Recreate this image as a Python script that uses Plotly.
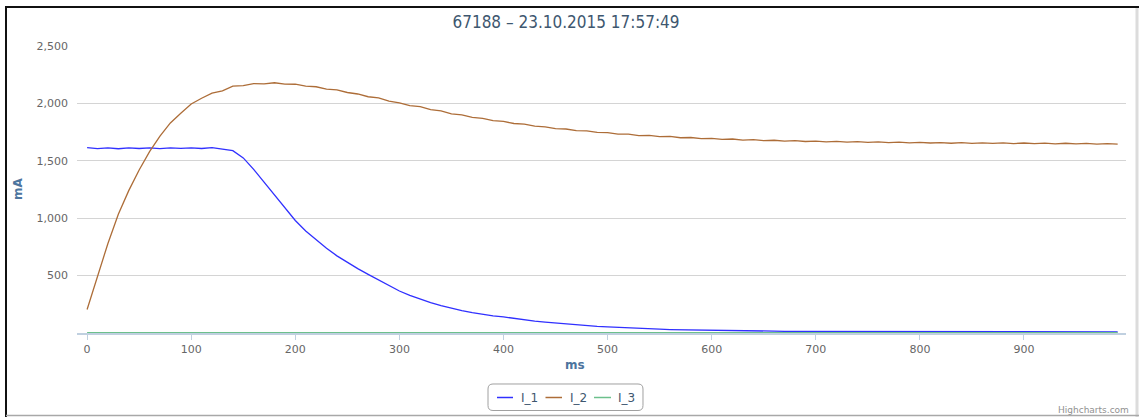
import plotly.graph_objects as go

# ---------------- data ----------------
ms = list(range(0, 1000, 10))

I_1 = [1615, 1606, 1612, 1605, 1613, 1607, 1612, 1606, 1613, 1608,
       1612, 1607, 1614, 1603, 1588, 1525, 1425, 1315, 1205, 1090,
       980, 888, 810, 738, 672, 614, 561, 511, 461, 412,
       366, 328, 295, 265, 238, 215, 195, 178, 162, 150,
       140, 126, 114, 104, 95, 87, 78, 71, 64, 58,
       53, 48, 44, 40, 36, 33, 30, 28, 26, 24,
       22, 21, 20, 19, 18, 17, 16, 15, 15, 14,
       14, 13, 13, 13, 12, 12, 12, 12, 12, 12,
       11, 11, 11, 11, 11, 11, 11, 11, 11, 11,
       10, 10, 10, 10, 10, 10, 10, 10, 10, 10]

I_2 = [205, 500, 780, 1035, 1240, 1420, 1580, 1715, 1830, 1915,
       1995, 2045, 2090, 2110, 2150, 2155, 2172, 2170, 2180, 2168,
       2167, 2150, 2145, 2125, 2118, 2095, 2082, 2058, 2048, 2020,
       2005, 1980, 1972, 1945, 1935, 1908, 1900, 1878, 1870, 1850,
       1843, 1825, 1820, 1802, 1796, 1780, 1777, 1763, 1760, 1747,
       1745, 1733, 1732, 1720, 1721, 1710, 1712, 1701, 1703, 1693,
       1696, 1686, 1690, 1680, 1684, 1675, 1679, 1671, 1675, 1668,
       1672, 1665, 1669, 1662, 1667, 1660, 1665, 1658, 1663, 1656,
       1661, 1655, 1659, 1653, 1658, 1652, 1657, 1651, 1656, 1650,
       1655, 1649, 1654, 1648, 1653, 1647, 1652, 1646, 1650, 1645]

I_3 = [4, 3, 4, 4, 3, 4, 3, 4, 4, 3,
       4, 3, 4, 4, 3, 4, 3, 4, 4, 3,
       4, 3, 4, 4, 3, 4, 3, 4, 4, 3,
       4, 3, 4, 4, 3, 4, 3, 4, 4, 3,
       4, 3, 4, 4, 3, 4, 3, 4, 4, 3,
       4, 3, 4, 4, 3, 4, 3, 4, 4, 3,
       4, 3, 4, 4, 3, 4, 3, 4, 4, 3,
       4, 3, 4, 4, 3, 4, 3, 4, 4, 3,
       4, 3, 4, 4, 3, 4, 3, 4, 4, 3,
       4, 3, 4, 4, 3, 4, 3, 4, 4, 3]

series_names = ["I_1", "I_2", "I_3"]
series_colors = ["#3030ff", "#ad6d38", "#6cc08c"]
y_ticks = [500, 1000, 1500, 2000, 2500]
x_ticks = [0, 100, 200, 300, 400, 500, 600, 700, 800, 900]
title_text = "67188 \u2013 23.10.2015 17:57:49"

# ---------------- layout geometry (pixels) ----------------
W, H = 1139, 417
PL, PR, PT, PB = 77, 1126, 46, 333


def px(x):
    return (x - PL) / (PR - PL)


def py(y):
    return (PB - y) / (PB - PT)


fig = go.Figure()
for name, vals, col in zip(series_names, [I_1, I_2, I_3], series_colors):
    fig.add_trace(go.Scatter(x=ms, y=vals, mode="lines", name=name,
                             line=dict(color=col, width=1.3),
                             showlegend=False))

shapes = []
# chart frame (screenshot borders)
shapes.append(dict(type="line", xref="paper", yref="paper",
                   x0=px(5), x1=px(W), y0=py(7), y1=py(7),
                   line=dict(color="#111111", width=2)))
shapes.append(dict(type="line", xref="paper", yref="paper",
                   x0=px(6), x1=px(6), y0=py(6), y1=py(H),
                   line=dict(color="#111111", width=2)))
shapes.append(dict(type="line", xref="paper", yref="paper",
                   x0=px(1137), x1=px(1137), y0=py(8), y1=py(H),
                   line=dict(color="#dcdcdc", width=3)))
shapes.append(dict(type="line", xref="paper", yref="paper",
                   x0=px(6), x1=px(W), y0=py(415.5), y1=py(415.5),
                   line=dict(color="#a8a8a8", width=1.5)))


# custom legend box with rounded corners
def rrect(x0, y0, x1, y1, r):
    pts = [
        ("M", x0 + r, y0), ("L", x1 - r, y0), ("Q", x1, y0, x1, y0 + r),
        ("L", x1, y1 - r), ("Q", x1, y1, x1 - r, y1), ("L", x0 + r, y1),
        ("Q", x0, y1, x0, y1 - r), ("L", x0, y0 + r), ("Q", x0, y0, x0 + r, y0),
    ]
    out = []
    for p in pts:
        if p[0] == "Q":
            out.append("Q %.6f,%.6f %.6f,%.6f" % (px(p[1]), py(p[2]), px(p[3]), py(p[4])))
        else:
            out.append("%s %.6f,%.6f" % (p[0], px(p[1]), py(p[2])))
    return " ".join(out) + " Z"


shapes.append(dict(type="path", xref="paper", yref="paper",
                   path=rrect(488, 384, 643, 410.5, 5),
                   line=dict(color="#a0a0a0", width=1), fillcolor="white"))

annotations = []
leg_sym = [(497, 513), (545.5, 562), (594, 611)]
leg_txt = [519, 567.5, 616]
for (s0, s1), tx, name, col in zip(leg_sym, leg_txt, series_names, series_colors):
    shapes.append(dict(type="line", xref="paper", yref="paper",
                       x0=px(s0), x1=px(s1), y0=py(397.5), y1=py(397.5),
                       line=dict(color=col, width=1.5)))
    annotations.append(dict(xref="paper", yref="paper", x=px(tx), y=py(397.5),
                            xanchor="left", yanchor="middle", showarrow=False,
                            text=name,
                            font=dict(family="DejaVu Sans", size=12, color="#3E576F")))

# axis titles
annotations.append(dict(xref="paper", yref="paper", x=px(18), y=py(189),
                        xanchor="center", yanchor="middle", showarrow=False,
                        text="<b>mA</b>", textangle=-90,
                        font=dict(family="DejaVu Sans", size=12, color="#4d759e")))
annotations.append(dict(xref="paper", yref="paper", x=px(575), y=py(365),
                        xanchor="center", yanchor="middle", showarrow=False,
                        text="<b>ms</b>",
                        font=dict(family="DejaVu Sans", size=12, color="#4d759e")))
# credit (cut at the bottom edge in the reference; kept just inside here)
annotations.append(dict(xref="paper", yref="paper", x=px(1131), y=py(403),
                        xanchor="right", yanchor="top", showarrow=False,
                        text="Highcharts.com",
                        font=dict(family="DejaVu Sans", size=9, color="#909090")))

fig.update_layout(
    width=W, height=H,
    margin=dict(l=PL, r=W - PR, t=PT, b=H - PB, pad=0),
    paper_bgcolor="white", plot_bgcolor="white",
    title=dict(text=title_text, x=(566) / W, xanchor="center",
               y=1 - 22 / H, yanchor="middle",
               font=dict(family="DejaVu Sans Condensed, Liberation Sans Narrow, DejaVu Sans",
                         size=17, color="#3E576F")),
    shapes=shapes,
    annotations=annotations,
    showlegend=False,
)

fig.update_xaxes(
    range=[-9.7, 998], tickvals=x_ticks, ticktext=[str(v) for v in x_ticks],
    showgrid=False, zeroline=False,
    showline=True, linecolor="#C0D0E0", linewidth=2,
    ticks="outside", ticklen=5, tickcolor="#C0D0E0", tickwidth=1,
    tickfont=dict(family="DejaVu Sans", size=11, color="#666666"),
)
fig.update_yaxes(
    range=[0, 2500], tickvals=y_ticks,
    ticktext=["{:,}".format(v) for v in y_ticks],
    showgrid=True, gridcolor="#d4d4d4", gridwidth=1,
    zeroline=False, showline=False, ticks="",
    ticklabelstandoff=8,
    tickfont=dict(family="DejaVu Sans", size=11, color="#666666"),
)

fig.write_html("out.html", config={"displayModeBar": False},
               post_script="document.body.style.margin='0';")
